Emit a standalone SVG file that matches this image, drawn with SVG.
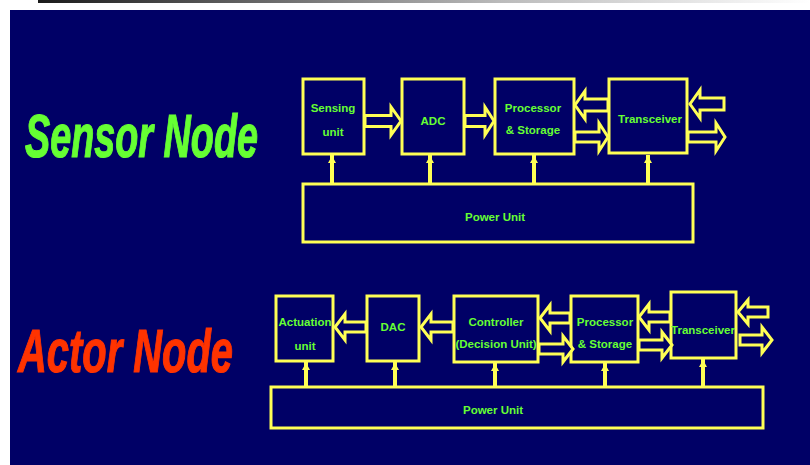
<svg xmlns="http://www.w3.org/2000/svg" width="810" height="465" viewBox="0 0 810 465">
<defs>
<linearGradient id="bar" x1="0" y1="0" x2="1" y2="0">
<stop offset="0" stop-color="#1a1a1a"/>
<stop offset="0.6" stop-color="#bbbbbb"/>
<stop offset="1" stop-color="#ffffff"/>
</linearGradient>
<style>
.box{fill:none;stroke:#ffff55;stroke-width:3}
.arr{fill:#000066;stroke:#ffff55;stroke-width:3;stroke-linejoin:miter}
.pw{stroke:#ffff55;stroke-width:4;fill:none}
.tip{fill:#ffff55}
.lbl{font-family:"Liberation Sans",Arial,sans-serif;font-weight:bold;font-size:11.5px;fill:#66ff33;text-anchor:middle}
.title{font-family:"Liberation Sans",Arial,sans-serif;font-weight:bold;font-style:italic;font-size:62px;stroke-width:1.2}
</style>
</defs>
<rect x="0" y="0" width="810" height="465" fill="#ffffff"/>
<rect x="38" y="0" width="772" height="3" fill="url(#bar)"/>
<rect x="10" y="10" width="800" height="455" fill="#000066"/>

<text class="title" x="25" y="157" fill="#66ff33" stroke="#66ff33" textLength="233" lengthAdjust="spacingAndGlyphs">Sensor Node</text>
<text class="title" x="18" y="372" fill="#ff3300" stroke="#ff3300" textLength="215" lengthAdjust="spacingAndGlyphs">Actor Node</text>

<!-- Sensor node -->
<g id="s-sensing"><rect class="box" x="303" y="79" width="61" height="75"/><text class="lbl" x="333" y="112">Sensing</text><text class="lbl" x="333" y="136">unit</text></g>
<g id="s-adc"><rect class="box" x="402" y="79" width="62" height="75"/><text class="lbl" x="433" y="125">ADC</text></g>
<g id="s-proc"><rect class="box" x="495" y="79" width="79" height="75"/><text class="lbl" x="533" y="112">Processor</text><text class="lbl" x="533" y="134">&amp; Storage</text></g>
<g id="s-trans"><rect class="box" x="609" y="79" width="78" height="74"/><text class="lbl" x="650" y="123">Transceiver</text></g>
<g id="s-power"><rect class="box" x="303" y="184" width="390" height="58"/><text class="lbl" x="495" y="221">Power Unit</text></g>

<!-- Actor node -->
<g id="a-act"><rect class="box" x="276" y="296" width="57" height="65"/><text class="lbl" x="305" y="326">Actuation</text><text class="lbl" x="305" y="350">unit</text></g>
<g id="a-dac"><rect class="box" x="367" y="296" width="52" height="65"/><text class="lbl" x="393" y="331">DAC</text></g>
<g id="a-ctrl"><rect class="box" x="454" y="296" width="84" height="66"/><text class="lbl" x="496" y="326">Controller</text><text class="lbl" x="496" y="348">(Decision Unit)</text></g>
<g id="a-proc"><rect class="box" x="571" y="296" width="67" height="66"/><text class="lbl" x="605" y="326">Processor</text><text class="lbl" x="605" y="348">&amp; Storage</text></g>
<g id="a-trans"><rect class="box" x="671" y="292" width="65" height="66"/><text class="lbl" x="703" y="334">Transceiver</text></g>
<g id="a-power"><rect class="box" x="271" y="387" width="492" height="41"/><text class="lbl" x="493" y="414">Power Unit</text></g>

<g id="connectors">
<!-- sensor block arrows -->
<polygon class="arr" points="365,115.5 391,115.5 391,107 401,121 391,135 391,126.5 365,126.5"/>
<polygon class="arr" points="465,115.5 485,115.5 485,107 494,121 485,135 485,126.5 465,126.5"/>
<polygon class="arr" points="608,99 585,99 585,91 575,105 585,119 585,111 608,111"/>
<polygon class="arr" points="575,132 599,132 599,123 608,137 599,151 599,142 575,142"/>
<polygon class="arr" points="724,98 700,98 700,90 690,104 700,118 700,110 724,110"/>
<polygon class="arr" points="688,132 716,132 716,123 725,137 716,151 716,142 688,142"/>
<!-- sensor power lines -->
<path class="pw" d="M332,184V155M430,184V155M534,184V155M648,184V155"/>
<polygon class="tip" points="328,163 336,163 332,156"/>
<polygon class="tip" points="426,163 434,163 430,156"/>
<polygon class="tip" points="530,163 538,163 534,156"/>
<polygon class="tip" points="644,163 652,163 648,156"/>

<!-- actor block arrows -->
<polygon class="arr" points="366,322 345,322 345,314 335,327 345,340 345,332 366,332"/>
<polygon class="arr" points="453,322 431,322 431,314 421,327 431,340 431,332 453,332"/>
<polygon class="arr" points="570,313 550,313 550,305 540,318 550,331 550,323 570,323"/>
<polygon class="arr" points="539,344 563,344 563,336 573,349 563,362 563,354 539,354"/>
<polygon class="arr" points="670,312 649,312 649,304 639,317 649,330 649,322 670,322"/>
<polygon class="arr" points="639,340 662,340 662,332 672,345 662,358 662,350 639,350"/>
<polygon class="arr" points="768,307 748,307 748,300 738,312 748,324 748,317 768,317"/>
<polygon class="arr" points="740,335 762,335 762,327 772,340 762,353 762,345 740,345"/>
<!-- actor power lines -->
<path class="pw" d="M306,387V362M395,387V362M495,387V363M605,387V363M703,387V359"/>
<polygon class="tip" points="302,370 310,370 306,363"/>
<polygon class="tip" points="391,370 399,370 395,363"/>
<polygon class="tip" points="491,371 499,371 495,364"/>
<polygon class="tip" points="601,371 609,371 605,364"/>
<polygon class="tip" points="699,367 707,367 703,360"/>
</g>
</svg>
